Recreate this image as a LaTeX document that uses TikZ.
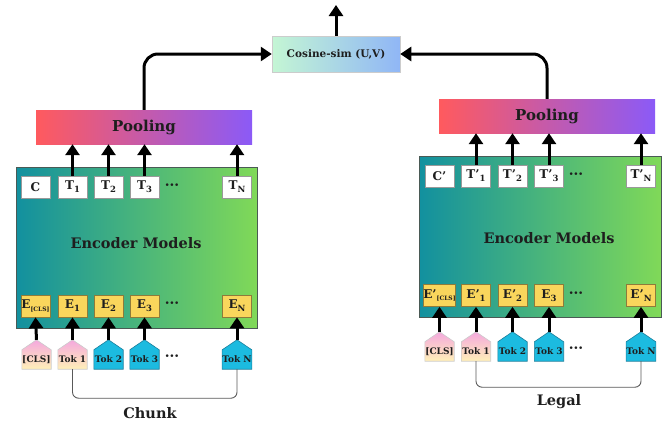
\documentclass[tikz,border=0pt]{standalone}
\usepackage{fontspec}
\setmainfont{DejaVu Serif}
\usetikzlibrary{arrows.meta,backgrounds}
\definecolor{encL}{HTML}{12909F}
\definecolor{encR}{HTML}{80D958}
\definecolor{encB}{HTML}{4A5A55}
\definecolor{poolL}{HTML}{FF5A5E}
\definecolor{poolR}{HTML}{8B5AF7}
\definecolor{cosL}{HTML}{C4F6D4}
\definecolor{cosR}{HTML}{90B6F6}
\definecolor{eyel}{HTML}{F9D65C}
\definecolor{eedge}{HTML}{8E7B3A}
\definecolor{tcyan}{HTML}{1CBBE0}
\definecolor{tcyanB}{HTML}{1A7F9C}
\definecolor{tpink}{HTML}{F4A8DE}
\definecolor{tcream}{HTML}{FFF0B8}
\definecolor{txt}{HTML}{1E1E1E}
\newcommand\sbs[1]{\raisebox{-3pt}{\fontsize{8.5}{8.5}\selectfont #1}}
\newcommand\sbx[1]{\raisebox{-2.2pt}{\fontsize{6}{6}\selectfont #1}}
\newcommand\trio{\textbullet\kern-0.6pt\textbullet\kern-0.6pt\textbullet}
\begin{document}
\begin{tikzpicture}[x=1pt,y=-1pt,
  font=\bfseries, text=txt,
  arr/.style={-{Triangle[width=14pt,length=11pt]}, line width=3pt, black},
  encbox/.style={draw=encB, line width=0.8pt, left color=encL, right color=encR,
    minimum width=#1, minimum height=161, inner sep=0},
  poolbox/.style={left color=poolL, right color=poolR, minimum width=216,
    minimum height=34, inner sep=0, font=\bfseries\fontsize{15}{15}\selectfont},
  tbox/.style={draw=gray!80, fill=white, line width=0.6pt, minimum width=29,
    minimum height=22, inner sep=0, font=\bfseries\fontsize{12}{12}\selectfont},
  ebox/.style={tbox, fill=eyel, draw=eedge},
  tokbox/.style={minimum width=29, minimum height=19, inner sep=0,
    font=\bfseries\fontsize{9}{9}\selectfont},
  cyantok/.style={fill=tcyan, draw=tcyanB, line width=0.6pt},
  pinktok/.style={top color=tpink, bottom color=tcream, draw=gray!40, line width=0.6pt},
  dotrow/.style={font=\fontsize{9}{9}\selectfont},
  bigtxt/.style={font=\bfseries\fontsize{14.5}{14.5}\selectfont},
  captxt/.style={font=\bfseries\fontsize{14.5}{14.5}\selectfont},
  brk/.style={draw=gray!70!black, line width=0.9pt, rounded corners=6pt}]

\useasboundingbox (0,0) rectangle (669,423);

% similarity head
\node[draw=gray!40, line width=0.5pt, left color=cosL, right color=cosR,
  minimum width=128, minimum height=36, inner sep=0,
  font=\bfseries\fontsize{10.5}{10.5}\selectfont] (cos) at (336,54) {Cosine-sim (U,V)};
\coordinate (out) at (336,5);

% ---------------- left tower (Chunk) ----------------
\node[encbox=241] (lenc) at (136.5,247.5) {};
\node[bigtxt] (lencl) at (136,243) {Encoder Models};
\node[poolbox] (lpool) at (144,127) {Pooling};

\node[tbox] (lc)  at (35.5,187) {C};
\node[tbox] (lt1) at (72.5,187) {T\sbs{1}};
\node[tbox] (lt2) at (108.5,187) {T\sbs{2}};
\node[tbox] (lt3) at (144.5,187) {T\sbs{3}};
\node[dotrow] (ltd) at (172,186) {\trio};
\node[tbox] (ltn) at (237,187) {T\sbs{N}};

\node[ebox] (lec) at (35.5,306) {E\sbx{[CLS]}};
\node[ebox] (le1) at (72.5,306) {E\sbs{1}};
\node[ebox] (le2) at (108.5,306) {E\sbs{2}};
\node[ebox] (le3) at (144.5,306) {E\sbs{3}};
\node[dotrow] (led) at (172,304) {\trio};
\node[ebox] (len) at (237,306) {E\sbs{N}};

\node[tokbox] (lkc) at (36.5,359.5) {[CLS]};
\node[tokbox] (lk1) at (72.5,359.5) {Tok 1};
\node[tokbox] (lk2) at (108.5,359.5) {Tok 2};
\node[tokbox] (lk3) at (144.5,359.5) {Tok 3};
\node[dotrow] (lkd) at (172,357) {\trio};
\node[tokbox] (lkn) at (237,359.5) {Tok N};
\node[captxt] (chunk) at (150,413) {Chunk};

% ---------------- right tower (Legal) ----------------
\node[encbox=242] (renc) at (540,236.5) {};
\node[bigtxt] (rencl) at (549,238) {Encoder Models};
\node[poolbox] (rpool) at (547,116) {Pooling};

\node[tbox] (rc)  at (439.5,176) {C'};
\node[tbox] (rt1) at (476,176) {T'\sbs{1}};
\node[tbox] (rt2) at (512.5,176) {T'\sbs{2}};
\node[tbox] (rt3) at (549,176) {T'\sbs{3}};
\node[dotrow] (rtd) at (576,175) {\trio};
\node[tbox] (rtn) at (641,176) {T'\sbs{N}};

\node[ebox] (rec) at (439.5,295.5) {E'\sbx{[CLS]}};
\node[ebox] (re1) at (476,295.5) {E'\sbs{1}};
\node[ebox] (re2) at (512.5,295.5) {E'\sbs{2}};
\node[ebox] (re3) at (549,295.5) {E\sbs{3}};
\node[dotrow] (red) at (576,294) {\trio};
\node[ebox] (ren) at (641,295.5) {E'\sbs{N}};

\node[tokbox] (rkc) at (439.5,351.5) {[CLS]};
\node[tokbox] (rk1) at (476,351.5) {Tok 1};
\node[tokbox] (rk2) at (512.5,351.5) {Tok 2};
\node[tokbox] (rk3) at (549,351.5) {Tok 3};
\node[dotrow] (rkd) at (576,349) {\trio};
\node[tokbox] (rkn) at (641,351.5) {Tok N};
\node[captxt] (legal) at (559,402) {Legal};

% token tags: a box with a pointed roof
\begin{scope}[on background layer]
  \foreach \n in {lkc,lk1,rkc,rk1}
    \path[pinktok] (\n.south west) -- (\n.north west) -- ([yshift=10pt]\n.north)
      -- (\n.north east) -- (\n.south east) -- cycle;
  \foreach \n in {lk2,lk3,lkn,rk2,rk3,rkn}
    \path[cyantok] (\n.south west) -- (\n.north west) -- ([yshift=10pt]\n.north)
      -- (\n.north east) -- (\n.south east) -- cycle;
\end{scope}

% tokens into embeddings
\foreach \k/\e in {lkc/lec,lk1/le1,lk2/le2,lk3/le3,lkn/len,
                   rkc/rec,rk1/re1,rk2/re2,rk3/re3,rkn/ren}
  \draw[arr] ([yshift=10pt]\k.north) -- (\e.south);

% outputs into pooling
\foreach \t in {lt1,lt2,lt3,ltn}
  \draw[arr] (\t.north) -- (\t.north |- lpool.south);
\foreach \t in {rt1,rt2,rt3,rtn}
  \draw[arr] (\t.north) -- (\t.north |- rpool.south);

% pooled vectors into the similarity
\draw[arr, rounded corners=14pt] (lpool.north) |- (cos.west);
\draw[arr, rounded corners=14pt] (rpool.north) |- (cos.east);
\draw[arr] (cos.north) -- (out);

% input span brackets
\draw[brk] (lk1.south) -- ++(0,29) -| (lkn.south);
\draw[brk] (rk1.south) -- ++(0,26) -| (rkn.south);
\end{tikzpicture}
\end{document}
